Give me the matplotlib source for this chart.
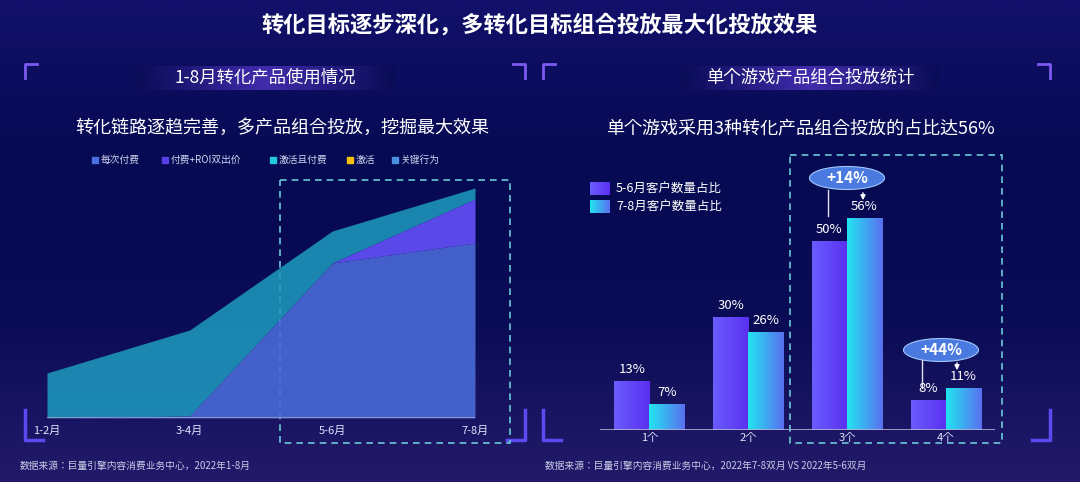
import numpy as np
import matplotlib
matplotlib.use("Agg")
import matplotlib.pyplot as plt
from matplotlib import font_manager
from matplotlib.patches import Ellipse, Rectangle
from matplotlib.colors import LinearSegmentedColormap

cjk = [f.name for f in font_manager.fontManager.ttflist if "CJK" in f.name]
plt.rcParams["font.family"] = ["Noto Sans CJK SC", "Noto Sans CJK JP"] + sorted(set(cjk)) + ["DejaVu Sans"]

# data - left area chart (relative heights)
periods = ["1-2月", "3-4月", "5-6月", "7-8月"]
per_pay = [0, 2, 155, 175]          # 每次付费
pay_roi = [0, 0, 0, 44]             # 付费+ROI双出价
act_pay = [45, 86, 32, 11]          # 激活且付费
area_legend = ["每次付费", "付费+ROI双出价", "激活且付费", "激活", "关键行为"]
area_legend_colors = ["#4a6ee0", "#5a3ee8", "#22c8e0", "#f5c000", "#4a90e0"]

# data - right bar chart
groups = ["1个", "2个", "3个", "4个"]
share_56 = [13, 30, 50, 8]
share_78 = [7, 26, 56, 11]
bar_legend = ["5-6月客户数量占比", "7-8月客户数量占比"]

W, H = 1080, 482
fig = plt.figure(figsize=(W / 100, H / 100), dpi=100)

# background
bg = fig.add_axes([0, 0, 1, 1])
bg.axis("off")
bgcmap = LinearSegmentedColormap.from_list("bg", ["#12106a", "#060a52", "#0a0c55", "#231a6a"])
yy = np.linspace(0, 1, 200)[:, None] * np.ones((1, 2))
bg.imshow(yy, cmap=bgcmap, extent=[0, W, H, 0], aspect="auto", zorder=0)

white = "#ffffff"
fig.text(0.5, 1 - 25 / H, "转化目标逐步深化，多转化目标组合投放最大化投放效果",
         color=white, fontsize=16, fontweight="bold", ha="center", va="center")

# panel headers / frames
hcm = LinearSegmentedColormap.from_list("h", ["#0a0c55", "#5a3ad0", "#0a0c55"])
for cx, txt, x0, x1 in [(265, "1-8月转化产品使用情况", 25, 525), (810, "单个游戏产品组合投放统计", 543, 1050)]:
    bg.imshow(np.linspace(0, 1, 50)[None, :], cmap=hcm, extent=[cx - 130, cx + 130, 90, 66],
              aspect="auto", alpha=0.7, zorder=1)
    bg.text(cx, 78, txt, color=white, fontsize=12.5, ha="center", va="center", zorder=2)
    bg.plot([x0, x0, x0 + 12], [78, 64, 64], color="#7a5af0", lw=2, zorder=2)
    bg.plot([x1 - 12, x1, x1], [64, 64, 78], color="#7a5af0", lw=2, zorder=2)
    bg.plot([x0, x0, x0 + 18], [410, 440, 440], color="#5a4af0", lw=2.5, zorder=2)
    bg.plot([x1 - 18, x1, x1], [440, 440, 410], color="#5a4af0", lw=2.5, zorder=2)

bg.text(282, 128, "转化链路逐趋完善，多产品组合投放，挖掘最大效果", color=white, fontsize=13, ha="center", va="center")
bg.text(800, 128, "单个游戏采用3种转化产品组合投放的占比达56%", color=white, fontsize=13, ha="center", va="center")

# left legend
lx = [92, 162, 270, 347, 392]
for x, lab, c in zip(lx, area_legend, area_legend_colors):
    bg.add_patch(Rectangle((x, 157), 6, 6, color=c, zorder=3))
    bg.text(x + 9, 160, lab, color="#d0d4f0", fontsize=7, va="center", zorder=3)

# left area chart
axL = fig.add_axes([47 / W, (H - 418) / H, 428 / W, 230 / H])
axL.set_facecolor("none")
x = np.arange(len(periods))
a = np.array(per_pay, float)
b = a + np.array(pay_roi)
c = b + np.array(act_pay)
axL.fill_between(x, b, c, color="#1e9cc0", alpha=0.85, lw=0)
axL.fill_between(x, a, b, color="#5a48e8", lw=0)
axL.fill_between(x, 0, a, color="#4a6ad8", alpha=0.9, lw=0)
axL.set_xlim(0, 3)
axL.set_ylim(0, 230)
axL.axhline(0, color="#9aa0c8", lw=1.2)
for s in axL.spines.values():
    s.set_visible(False)
axL.set_yticks([])
axL.set_xticks(x)
axL.set_xticklabels(periods, color="#e0e4ff", fontsize=8)
axL.tick_params(length=0, pad=6)

# right bar chart
axR = fig.add_axes([600 / W, (H - 430) / H, 395 / W, 227 / H])
axR.set_facecolor("none")
xr = np.arange(len(groups))
w = 0.355
cm1 = LinearSegmentedColormap.from_list("c1", ["#6a5cff", "#5a30f0"])
cm2 = LinearSegmentedColormap.from_list("c2", ["#22e4f0", "#5a70f0"])
grad = np.linspace(0, 1, 50)[None, :]
for xs, vals, cmap in [(xr - w / 2, share_56, cm1), (xr + w / 2, share_78, cm2)]:
    bars = axR.bar(xs, vals, width=w, color="none")
    for r, v in zip(bars, vals):
        im = axR.imshow(grad, cmap=cmap, aspect="auto",
                        extent=[r.get_x(), r.get_x() + r.get_width(), 0, v], zorder=2)
        im.set_clip_path(r)
        axR.text(r.get_x() + r.get_width() / 2, v + 1.3, f"{v}%", color=white,
                 fontsize=9.5, ha="center", va="bottom", zorder=3)
axR.set_xlim(-0.5, 3.5)
axR.set_ylim(0, 60)
axR.axhline(0, color="#b0b4d8", lw=1.2)
for s in axR.spines.values():
    s.set_visible(False)
axR.set_yticks([])
axR.set_xticks(xr)
axR.set_xticklabels(groups, color="#e0e4ff", fontsize=8)
axR.tick_params(length=0, pad=2)

# right legend
for i, (lab, cmap) in enumerate(zip(bar_legend, [cm1, cm2])):
    y0 = 182 + i * 18
    bg.imshow(grad, cmap=cmap, extent=[590, 610, y0 + 13, y0], aspect="auto", zorder=3)
    bg.text(616, y0 + 6.5, lab, color=white, fontsize=9, va="center", zorder=3)

# dashed boxes
for (x0, y0, x1, y1) in [(280, 180, 510, 443), (790, 155, 1002, 443)]:
    bg.add_patch(Rectangle((x0, y0), x1 - x0, y1 - y0, fill=False, ec="#6ac8d8",
                           ls=(0, (4, 3)), lw=1.2, zorder=4))

# callouts
for cx, cy, txt, ly0, ly1 in [(847, 178, "+14%", 190, 216), (941, 350, "+44%", 360, 388)]:
    bg.add_patch(Ellipse((cx, cy), 75, 23, fc="#4a7ae0", ec="#a0c8ff", lw=0.8, zorder=5))
    bg.text(cx, cy, txt, color=white, fontsize=11, fontweight="bold", ha="center", va="center", zorder=6)
    bg.plot([cx - 19, cx - 19], [ly0, ly1], color="#e0e0f0", lw=1, zorder=5)
    bg.annotate("", xy=(cx + 16, ly0 + 13), xytext=(cx + 16, ly0),
                arrowprops=dict(arrowstyle="-|>", color=white, lw=1, mutation_scale=7), zorder=5)

bg.text(20, 466, "数据来源：巨量引擎内容消费业务中心，2022年1-8月", color="#c8cce8", fontsize=7, va="center")
bg.text(545, 466, "数据来源：巨量引擎内容消费业务中心，2022年7-8双月 VS 2022年5-6双月", color="#c8cce8", fontsize=7, va="center")

bg.set_xlim(0, W)
bg.set_ylim(H, 0)
fig.savefig("out.png", dpi=100)
